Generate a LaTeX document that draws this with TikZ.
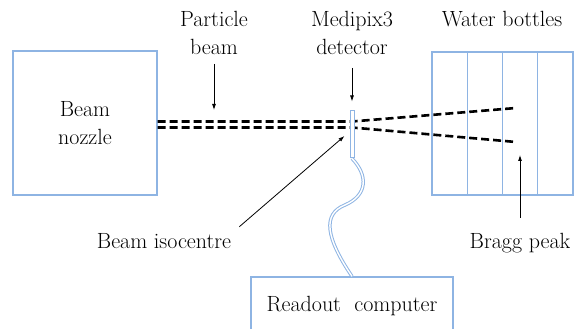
\documentclass[tikz,border=0pt]{standalone}
\usepackage{fontspec}
\usetikzlibrary{arrows.meta}
\definecolor{boxblue}{RGB}{142,180,227}

\begin{document}
\begin{tikzpicture}[x=1pt,y=-1pt,
  every node/.style={font=\fontsize{22}{28}\selectfont},
  box/.style={draw=boxblue,line width=1.3pt,align=center,inner sep=0pt},
  lbl/.style={inner sep=0pt,align=center},
  beam/.style={line width=2.6pt,dash pattern=on 8pt off 4pt},
  pointer/.style={line width=0.8pt,-{Latex[length=6pt,width=4pt]}},
  cable/.style={draw=boxblue,line width=1pt,double=white,double distance=1.4pt}]
\useasboundingbox (0,0) rectangle (574,329);
\node[box,minimum width=144pt,minimum height=144pt] (nozzle) at (85,123) {Beam\\nozzle};
\foreach \i in {0,...,3}
  \node[box,minimum width=35.25pt,minimum height=143pt] (bottle\i) at ({449.6+35.25*\i},123.5) {};
\node[box,minimum width=202pt,minimum height=58pt] (readout) at (352,306) {Readout~~computer};
\node[lbl] (particle) at (214,33) {Particle\\beam};
\node[lbl] (medipix) at (352,33) {Medipix3\\detector};
\node[lbl,anchor=base] (water) at (502,27) {Water bottles};
\node[lbl,anchor=base] (isoc) at (164,248) {Beam isocentre};
\node[lbl,anchor=base] (bragg) at (520,248) {Bragg peak};
\coordinate (up) at (352,121.5);
\coordinate (lo) at (352,127.5);
\coordinate (peakup) at (516,108);
\coordinate (peaklo) at (516,142);
\draw[beam] (up -| nozzle.east) -- (up) -- (peakup);
\draw[beam] (lo -| nozzle.east) -- (lo) -- (peaklo);
\node[box,fill=white,line width=1pt,minimum width=4pt,minimum height=47pt] (det) at (352,134.5) {};
\draw[cable] (det.south) .. controls (368,175) and (368,195) .. (345,205)
  .. controls (322,214) and (326,238) .. (readout.north);
\coordinate (pbtip) at (214,110);
\coordinate (isotip) at (344.5,136);
\coordinate (braggtip) at (520,155);
\draw[pointer,shorten <=9pt] (particle) -- (pbtip);
\draw[pointer,shorten <=13pt,shorten >=9pt] (medipix) -- (det);
\draw[pointer] ([xshift=8pt,yshift=6pt]isoc.north east) -- (isotip);
\draw[pointer,shorten <=15pt] (bragg) -- (braggtip);
\end{tikzpicture}
\end{document}
